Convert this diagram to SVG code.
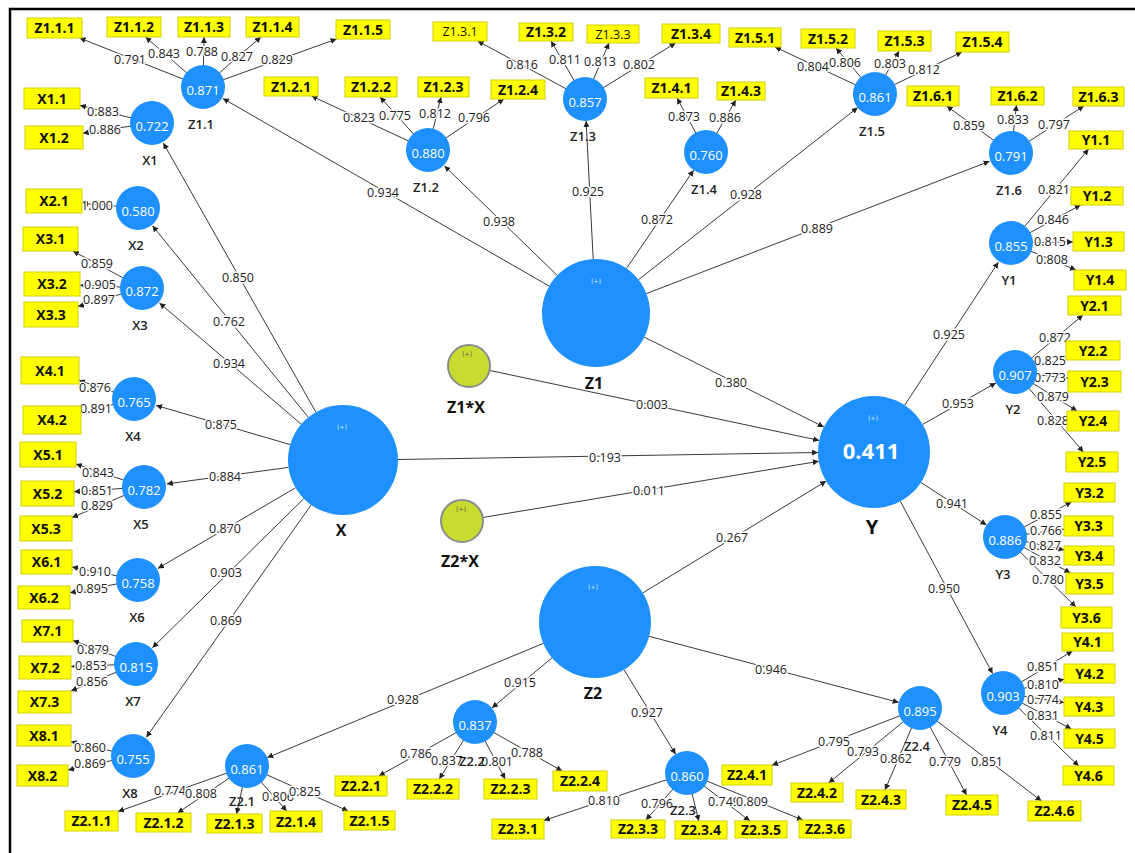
<svg xmlns="http://www.w3.org/2000/svg" width="1135" height="853" viewBox="0 0 1135 853">
<defs>
<marker id="ah" viewBox="0 0 6 6" refX="6" refY="3" markerWidth="6" markerHeight="6" markerUnits="userSpaceOnUse" orient="auto"><path d="M0,0 L6,3 L0,6 z" fill="#222"/></marker>
<style>
.c{stroke:#3a3a3a;stroke-width:1;fill:none;marker-end:url(#ah)}
.l{font-family:"Open Sans","DejaVu Sans",sans-serif;font-size:12.5px;fill:#222;text-anchor:middle;stroke:#fff;stroke-width:3;paint-order:stroke;stroke-linejoin:round}
.lv{fill:#1E90FF}
.ix{fill:#C8DC2F;stroke:#8C8C8C;stroke-width:2}
.v{font-family:"Open Sans","DejaVu Sans",sans-serif;font-size:13px;fill:#fff;text-anchor:middle}
.n{font-family:"Open Sans","DejaVu Sans",sans-serif;font-size:13px;font-weight:600;fill:#222;text-anchor:middle}
.N{font-family:"Open Sans","DejaVu Sans",sans-serif;font-size:16px;font-weight:700;fill:#111;text-anchor:middle}
.p{font-family:"DejaVu Sans",sans-serif;font-size:6px;fill:#d8ecff;text-anchor:middle}
.pi{font-family:"DejaVu Sans",sans-serif;font-size:6px;fill:#555;text-anchor:middle}
.b rect{fill:#FFFF00;stroke:#D2D200;stroke-width:1}
.b text{font-family:"Open Sans","DejaVu Sans",sans-serif;font-size:14px;font-weight:700;fill:#111;text-anchor:middle}
.b text.t{font-weight:400;font-size:12.5px}
</style>
</defs>
<rect width="1135" height="853" fill="#fff"/>
<path d="M10,853 V9 H1135" fill="none" stroke="#000" stroke-width="2.5"/>

<g id="connectors">
<line class="c" x1="549.2" y1="286.1" x2="222.9" y2="98.5"/>
<line class="c" x1="557.2" y1="275.4" x2="444.5" y2="166"/>
<line class="c" x1="593.2" y1="259.1" x2="586.1" y2="121"/>
<line class="c" x1="626.5" y1="268.4" x2="693.6" y2="170.2"/>
<line class="c" x1="638.5" y1="279.7" x2="857.7" y2="107.6"/>
<line class="c" x1="646.4" y1="293.6" x2="989.5" y2="161.3"/>
<line class="c" x1="644.3" y1="337.1" x2="823.9" y2="427"/>
<line class="c" x1="489.5" y1="370.4" x2="819.2" y2="440.4"/>
<line class="c" x1="398" y1="459.5" x2="818" y2="452.5"/>
<line class="c" x1="482.7" y1="517.5" x2="818.8" y2="461.3"/>
<line class="c" x1="642.8" y1="592.9" x2="826.2" y2="481.1"/>
<line class="c" x1="543.3" y1="643.4" x2="267.3" y2="757.6"/>
<line class="c" x1="552" y1="657.8" x2="491.9" y2="707.9"/>
<line class="c" x1="624.1" y1="669.8" x2="675.6" y2="754.2"/>
<line class="c" x1="649.1" y1="636.3" x2="898.7" y2="702.4"/>
<line class="c" x1="315.9" y1="412.2" x2="163.3" y2="143"/>
<line class="c" x1="308.3" y1="417.3" x2="152.5" y2="225.8"/>
<line class="c" x1="301.2" y1="424.2" x2="159.5" y2="303"/>
<line class="c" x1="290.2" y1="444.6" x2="156.1" y2="405.4"/>
<line class="c" x1="288.5" y1="467.4" x2="166.8" y2="483.9"/>
<line class="c" x1="295.5" y1="487.8" x2="157.9" y2="568.4"/>
<line class="c" x1="303.8" y1="498.6" x2="152.4" y2="647.8"/>
<line class="c" x1="311.2" y1="504.9" x2="146.3" y2="737.2"/>
<line class="c" x1="904.7" y1="405.2" x2="998.4" y2="262.2"/>
<line class="c" x1="922.7" y1="424.4" x2="995.9" y2="382.9"/>
<line class="c" x1="921" y1="482.5" x2="986.5" y2="525"/>
<line class="c" x1="900.4" y1="501.4" x2="992.6" y2="673.6"/>
<line class="c" x1="203" y1="87" x2="79.6" y2="38"/>
<line class="c" x1="203" y1="87" x2="145.5" y2="37"/>
<line class="c" x1="203" y1="87" x2="204" y2="37"/>
<line class="c" x1="203" y1="87" x2="260.9" y2="37"/>
<line class="c" x1="203" y1="87" x2="336.6" y2="39"/>
<line class="c" x1="428" y1="150" x2="311.5" y2="96"/>
<line class="c" x1="428" y1="150" x2="380" y2="97"/>
<line class="c" x1="428" y1="150" x2="441" y2="97"/>
<line class="c" x1="428" y1="150" x2="503.9" y2="99"/>
<line class="c" x1="585" y1="99" x2="477.6" y2="41"/>
<line class="c" x1="585" y1="99" x2="551" y2="41"/>
<line class="c" x1="585" y1="99" x2="609" y2="43"/>
<line class="c" x1="585" y1="99" x2="675.6" y2="43"/>
<line class="c" x1="706" y1="152" x2="677" y2="98"/>
<line class="c" x1="706" y1="152" x2="735.8" y2="100"/>
<line class="c" x1="875" y1="94" x2="775" y2="47"/>
<line class="c" x1="875" y1="94" x2="836" y2="48"/>
<line class="c" x1="875" y1="94" x2="899" y2="51"/>
<line class="c" x1="875" y1="94" x2="962" y2="52"/>
<line class="c" x1="1011" y1="153" x2="946.7" y2="106"/>
<line class="c" x1="1011" y1="153" x2="1016.5" y2="105"/>
<line class="c" x1="1011" y1="153" x2="1083.8" y2="106"/>
<line class="c" x1="1011" y1="243" x2="1088.6" y2="149"/>
<line class="c" x1="1011" y1="243" x2="1080.6" y2="205"/>
<line class="c" x1="1011" y1="243" x2="1073" y2="241.9"/>
<line class="c" x1="1011" y1="243" x2="1076" y2="270"/>
<line class="c" x1="1015" y1="372" x2="1083" y2="315"/>
<line class="c" x1="1015" y1="372" x2="1066" y2="357.9"/>
<line class="c" x1="1015" y1="372" x2="1068" y2="378.3"/>
<line class="c" x1="1015" y1="372" x2="1077" y2="411"/>
<line class="c" x1="1015" y1="372" x2="1083.4" y2="452"/>
<line class="c" x1="1005" y1="537" x2="1071.5" y2="502"/>
<line class="c" x1="1005" y1="537" x2="1064" y2="529.2"/>
<line class="c" x1="1005" y1="537" x2="1064" y2="550"/>
<line class="c" x1="1005" y1="537" x2="1070.4" y2="573"/>
<line class="c" x1="1005" y1="537" x2="1075.9" y2="607"/>
<line class="c" x1="1003" y1="693" x2="1072.6" y2="651"/>
<line class="c" x1="1003" y1="693" x2="1064" y2="679.3"/>
<line class="c" x1="1003" y1="693" x2="1064" y2="702.6"/>
<line class="c" x1="1003" y1="693" x2="1071.4" y2="729"/>
<line class="c" x1="1003" y1="693" x2="1078.7" y2="766"/>
<line class="c" x1="920" y1="708" x2="772" y2="765.3"/>
<line class="c" x1="920" y1="708" x2="828.6" y2="783"/>
<line class="c" x1="920" y1="708" x2="885" y2="790"/>
<line class="c" x1="920" y1="708" x2="966.6" y2="795"/>
<line class="c" x1="920" y1="708" x2="1041.5" y2="801"/>
<line class="c" x1="687" y1="773" x2="544" y2="820.4"/>
<line class="c" x1="687" y1="773" x2="645.9" y2="820"/>
<line class="c" x1="687" y1="773" x2="698.8" y2="821"/>
<line class="c" x1="687" y1="773" x2="749.9" y2="821"/>
<line class="c" x1="687" y1="773" x2="802.8" y2="820"/>
<line class="c" x1="475" y1="722" x2="378.8" y2="776"/>
<line class="c" x1="475" y1="722" x2="439.3" y2="779"/>
<line class="c" x1="475" y1="722" x2="505.2" y2="779"/>
<line class="c" x1="475" y1="722" x2="562.2" y2="771"/>
<line class="c" x1="247" y1="766" x2="118" y2="811.6"/>
<line class="c" x1="247" y1="766" x2="177.5" y2="813"/>
<line class="c" x1="247" y1="766" x2="236.6" y2="814"/>
<line class="c" x1="247" y1="766" x2="286.7" y2="811"/>
<line class="c" x1="247" y1="766" x2="348.2" y2="811"/>
<line class="c" x1="152" y1="123" x2="80" y2="105.4"/>
<line class="c" x1="152" y1="123" x2="83" y2="133.2"/>
<line class="c" x1="138" y1="208" x2="82" y2="203.3"/>
<line class="c" x1="142" y1="288" x2="72.9" y2="251"/>
<line class="c" x1="142" y1="288" x2="80" y2="285.2"/>
<line class="c" x1="142" y1="288" x2="78" y2="306.6"/>
<line class="c" x1="134" y1="399" x2="79" y2="380.3"/>
<line class="c" x1="134" y1="399" x2="81" y2="412.6"/>
<line class="c" x1="144" y1="487" x2="76" y2="464"/>
<line class="c" x1="144" y1="487" x2="74" y2="491.7"/>
<line class="c" x1="144" y1="487" x2="72" y2="517.5"/>
<line class="c" x1="138" y1="580" x2="72" y2="567"/>
<line class="c" x1="138" y1="580" x2="70" y2="592.7"/>
<line class="c" x1="136" y1="664" x2="73" y2="640.5"/>
<line class="c" x1="136" y1="664" x2="71" y2="666.5"/>
<line class="c" x1="136" y1="664" x2="71" y2="691"/>
<line class="c" x1="133" y1="756" x2="71" y2="741.7"/>
<line class="c" x1="133" y1="756" x2="68" y2="770"/>
<g>
<text class="l" x="383" y="196.5">0.934</text>
<text class="l" x="499" y="225.5">0.938</text>
<text class="l" x="588" y="195.5">0.925</text>
<text class="l" x="657" y="223.5">0.872</text>
<text class="l" x="746" y="198.5">0.928</text>
<text class="l" x="817" y="232.5">0.889</text>
<text class="l" x="731" y="386.5">0.380</text>
<text class="l" x="652" y="408.5">0.003</text>
<text class="l" x="605" y="461.5">0.193</text>
<text class="l" x="649" y="494.5">0.011</text>
<text class="l" x="732" y="541.5">0.267</text>
<text class="l" x="403" y="703.5">0.928</text>
<text class="l" x="520" y="686.5">0.915</text>
<text class="l" x="647" y="716.5">0.927</text>
<text class="l" x="771" y="673.5">0.946</text>
<text class="l" x="238" y="281.5">0.850</text>
<text class="l" x="229" y="325.5">0.762</text>
<text class="l" x="229" y="367.5">0.934</text>
<text class="l" x="221" y="428.5">0.875</text>
<text class="l" x="225" y="480.5">0.884</text>
<text class="l" x="225" y="532.5">0.870</text>
<text class="l" x="226" y="576.5">0.903</text>
<text class="l" x="226" y="624.5">0.869</text>
<text class="l" x="949" y="338.5">0.925</text>
<text class="l" x="958" y="407.5">0.953</text>
<text class="l" x="952" y="507.5">0.941</text>
<text class="l" x="944" y="592.5">0.950</text>

<text class="l" x="130" y="63.5">0.791</text>
<text class="l" x="164" y="57.5">0.843</text>
<text class="l" x="202" y="55.5">0.788</text>
<text class="l" x="237" y="60.5">0.827</text>
<text class="l" x="277" y="63.5">0.829</text>
<text class="l" x="359" y="121.5">0.823</text>
<text class="l" x="395" y="119.5">0.775</text>
<text class="l" x="435" y="117.5">0.812</text>
<text class="l" x="474" y="121.5">0.796</text>
<text class="l" x="522" y="68.5">0.816</text>
<text class="l" x="565" y="63.5">0.811</text>
<text class="l" x="600" y="65.5">0.813</text>
<text class="l" x="639" y="68.5">0.802</text>
<text class="l" x="684" y="120.5">0.873</text>
<text class="l" x="725" y="121.5">0.886</text>
<text class="l" x="813" y="70.5">0.804</text>
<text class="l" x="845" y="66.5">0.806</text>
<text class="l" x="890" y="67.5">0.803</text>
<text class="l" x="924" y="73.5">0.812</text>
<text class="l" x="969" y="129.5">0.859</text>
<text class="l" x="1013" y="123.5">0.833</text>
<text class="l" x="1054" y="128.5">0.797</text>
<text class="l" x="1054" y="193.5">0.821</text>
<text class="l" x="1053" y="223.5">0.846</text>
<text class="l" x="1050" y="245.5">0.815</text>
<text class="l" x="1052" y="263.5">0.808</text>
<text class="l" x="1055" y="341.5">0.872</text>
<text class="l" x="1050" y="364.5">0.825</text>
<text class="l" x="1050" y="381.5">0.773</text>
<text class="l" x="1053" y="400.5">0.879</text>
<text class="l" x="1053" y="424.5">0.828</text>
<text class="l" x="1046" y="518.5">0.855</text>
<text class="l" x="1046" y="534.5">0.766</text>
<text class="l" x="1045" y="549.5">0.827</text>
<text class="l" x="1045" y="564.5">0.832</text>
<text class="l" x="1048" y="583.5">0.780</text>
<text class="l" x="1043" y="670.5">0.851</text>
<text class="l" x="1043" y="688.5">0.810</text>
<text class="l" x="1043" y="703.5">0.774</text>
<text class="l" x="1043" y="719.5">0.831</text>
<text class="l" x="1046" y="739.5">0.811</text>
<text class="l" x="834" y="745.5">0.795</text>
<text class="l" x="863" y="755.5">0.793</text>
<text class="l" x="896" y="762.5">0.862</text>
<text class="l" x="945" y="765.5">0.779</text>
<text class="l" x="987" y="765.5">0.851</text>
<text class="l" x="604" y="804.5">0.810</text>
<text class="l" x="657" y="807.5">0.796</text>
<text class="l" x="724" y="805.5">0.749</text>
<text class="l" x="752" y="805.5">0.809</text>
<text class="l" x="416" y="757.5">0.786</text>
<text class="l" x="447" y="764.5">0.837</text>
<text class="l" x="497" y="765.5">0.801</text>
<text class="l" x="527" y="756.5">0.788</text>
<text class="l" x="170" y="794.5">0.774</text>
<text class="l" x="201" y="797.5">0.808</text>
<text class="l" x="278" y="800.5">0.806</text>
<text class="l" x="305" y="795.5">0.825</text>
<text class="l" x="103" y="115.5">0.883</text>
<text class="l" x="105" y="133.5">0.886</text>
<text class="l" x="97" y="209.5">1.000</text>
<text class="l" x="97" y="267.5">0.859</text>
<text class="l" x="100" y="288.5">0.905</text>
<text class="l" x="99" y="303.5">0.897</text>
<text class="l" x="95" y="391.5">0.876</text>
<text class="l" x="96" y="412.5">0.891</text>
<text class="l" x="98" y="476.5">0.843</text>
<text class="l" x="97" y="494.5">0.851</text>
<text class="l" x="97" y="509.5">0.829</text>
<text class="l" x="95" y="575.5">0.910</text>
<text class="l" x="92" y="592.5">0.895</text>
<text class="l" x="93" y="654">0.879</text>
<text class="l" x="91" y="670">0.853</text>
<text class="l" x="92" y="686">0.856</text>
<text class="l" x="90" y="751.5">0.860</text>
<text class="l" x="90" y="768">0.869</text>
</g>
</g>

<g id="node-Z1"><circle class="lv" cx="596" cy="313" r="54"/><text class="p" x="596" y="283">[+]</text><text class="N" x="594" y="389">Z1</text></g>
<g id="node-X"><circle class="lv" cx="343" cy="460" r="55"/><text class="p" x="342" y="429">[+]</text><text class="N" x="341" y="536">X</text></g>
<g id="node-Y"><circle class="lv" cx="874" cy="452" r="56"/><text class="p" x="873" y="420">[+]</text><text x="871" y="459" font-family="Open Sans, DejaVu Sans, sans-serif" font-size="22" font-weight="700" fill="#fff" text-anchor="middle">0.411</text><text x="872" y="534" font-family="Open Sans, DejaVu Sans, sans-serif" font-size="20" font-weight="700" fill="#111" text-anchor="middle">Y</text></g>
<g id="node-Z2"><circle class="lv" cx="595" cy="622" r="56"/><text class="p" x="593" y="589">[+]</text><text class="N" x="593" y="699">Z2</text></g>
<g id="node-Z1X"><circle class="ix" cx="469" cy="366" r="21"/><text class="pi" x="467" y="356">[+]</text><text class="N" x="466" y="413">Z1*X</text></g>
<g id="node-Z2X"><circle class="ix" cx="462" cy="521" r="21"/><text class="pi" x="461" y="511">[+]</text><text class="N" x="460" y="567">Z2*X</text></g>

<g id="node-Z1_1"><circle class="lv" cx="203" cy="87" r="22"/><text class="v" x="203" y="95">0.871</text><text class="n" x="201" y="129">Z1.1</text></g>
<g id="node-Z1_2"><circle class="lv" cx="428" cy="150" r="22"/><text class="v" x="428" y="158">0.880</text><text class="n" x="426" y="192">Z1.2</text></g>
<g id="node-Z1_3"><circle class="lv" cx="585" cy="99" r="22"/><text class="v" x="585" y="107">0.857</text><text class="n" x="583" y="141">Z1.3</text></g>
<g id="node-Z1_4"><circle class="lv" cx="706" cy="152" r="22"/><text class="v" x="706" y="160">0.760</text><text class="n" x="704" y="194">Z1.4</text></g>
<g id="node-Z1_5"><circle class="lv" cx="875" cy="94" r="22"/><text class="v" x="875" y="102">0.861</text><text class="n" x="872" y="136">Z1.5</text></g>
<g id="node-Z1_6"><circle class="lv" cx="1011" cy="153" r="22"/><text class="v" x="1011" y="161">0.791</text><text class="n" x="1009" y="195">Z1.6</text></g>
<g id="node-Y1"><circle class="lv" cx="1011" cy="243" r="22"/><text class="v" x="1011" y="251">0.855</text><text class="n" x="1009" y="285">Y1</text></g>
<g id="node-Y2"><circle class="lv" cx="1015" cy="372" r="22"/><text class="v" x="1015" y="380">0.907</text><text class="n" x="1013" y="414">Y2</text></g>
<g id="node-Y3"><circle class="lv" cx="1005" cy="537" r="22"/><text class="v" x="1005" y="545">0.886</text><text class="n" x="1003" y="579">Y3</text></g>
<g id="node-Y4"><circle class="lv" cx="1003" cy="693" r="22"/><text class="v" x="1003" y="701">0.903</text><text class="n" x="1000" y="735">Y4</text></g>
<g id="node-Z2_4"><circle class="lv" cx="920" cy="708" r="22"/><text class="v" x="920" y="716">0.895</text><text class="n" x="917" y="751">Z2.4</text></g>
<g id="node-Z2_3"><circle class="lv" cx="687" cy="773" r="22"/><text class="v" x="687" y="781">0.860</text><text class="n" x="683" y="815">Z2.3</text></g>
<g id="node-Z2_2"><circle class="lv" cx="475" cy="722" r="22"/><text class="v" x="475" y="730">0.837</text><text class="n" x="472" y="766">Z2.2</text></g>
<g id="node-Z2_1"><circle class="lv" cx="247" cy="766" r="22"/><text class="v" x="247" y="774">0.861</text><text class="n" x="242" y="806">Z2.1</text></g>
<g id="node-X1"><circle class="lv" cx="152" cy="123" r="22"/><text class="v" x="152" y="131">0.722</text><text class="n" x="150" y="165">X1</text></g>
<g id="node-X2"><circle class="lv" cx="138" cy="208" r="22"/><text class="v" x="138" y="216">0.580</text><text class="n" x="136" y="250">X2</text></g>
<g id="node-X3"><circle class="lv" cx="142" cy="288" r="22"/><text class="v" x="142" y="296">0.872</text><text class="n" x="140" y="330">X3</text></g>
<g id="node-X4"><circle class="lv" cx="134" cy="399" r="22"/><text class="v" x="134" y="407">0.765</text><text class="n" x="133" y="441">X4</text></g>
<g id="node-X5"><circle class="lv" cx="144" cy="487" r="22"/><text class="v" x="144" y="495">0.782</text><text class="n" x="141" y="529">X5</text></g>
<g id="node-X6"><circle class="lv" cx="138" cy="580" r="22"/><text class="v" x="138" y="588">0.758</text><text class="n" x="137" y="622">X6</text></g>
<g id="node-X7"><circle class="lv" cx="136" cy="664" r="22"/><text class="v" x="136" y="672">0.815</text><text class="n" x="133" y="706">X7</text></g>
<g id="node-X8"><circle class="lv" cx="133" cy="756" r="22"/><text class="v" x="133" y="764">0.755</text><text class="n" x="130" y="798">X8</text></g>

<g class="b">
<g id="ind-Z1_1_1"><rect x="27" y="18" width="55" height="20"/><text x="54.5" y="33">Z1.1.1</text></g>
<g id="ind-Z1_1_2"><rect x="107" y="17" width="54" height="20"/><text x="134" y="32">Z1.1.2</text></g>
<g id="ind-Z1_1_3"><rect x="178" y="17" width="52" height="20"/><text x="204" y="32">Z1.1.3</text></g>
<g id="ind-Z1_1_4"><rect x="246" y="17" width="53" height="20"/><text x="272.5" y="32">Z1.1.4</text></g>
<g id="ind-Z1_1_5"><rect x="336" y="20" width="54" height="19"/><text x="363" y="34.5">Z1.1.5</text></g>
<g id="ind-Z1_2_1"><rect x="264" y="77" width="54" height="19"/><text x="291" y="91.5">Z1.2.1</text></g>
<g id="ind-Z1_2_2"><rect x="345" y="77" width="52" height="20"/><text x="371" y="92">Z1.2.2</text></g>
<g id="ind-Z1_2_3"><rect x="418" y="77" width="51" height="20"/><text x="443.5" y="92">Z1.2.3</text></g>
<g id="ind-Z1_2_4"><rect x="491" y="80" width="54" height="19"/><text x="518" y="94.5">Z1.2.4</text></g>
<g id="ind-Z1_3_1"><rect x="433" y="22" width="54" height="19"/><text class="t" x="460" y="36">Z1.3.1</text></g>
<g id="ind-Z1_3_2"><rect x="519" y="23" width="54" height="18"/><text x="546" y="37">Z1.3.2</text></g>
<g id="ind-Z1_3_3"><rect x="587" y="25" width="52" height="18"/><text class="t" x="613" y="38.5">Z1.3.3</text></g>
<g id="ind-Z1_3_4"><rect x="662" y="24" width="58" height="19"/><text x="691" y="38.5">Z1.3.4</text></g>
<g id="ind-Z1_4_1"><rect x="645" y="78" width="53" height="20"/><text x="671.5" y="93">Z1.4.1</text></g>
<g id="ind-Z1_4_3"><rect x="717" y="82" width="48" height="18"/><text x="741" y="96">Z1.4.3</text></g>
<g id="ind-Z1_5_1"><rect x="729" y="28" width="52" height="19"/><text x="755" y="42.5">Z1.5.1</text></g>
<g id="ind-Z1_5_2"><rect x="801" y="29" width="54" height="19"/><text x="828" y="43.5">Z1.5.2</text></g>
<g id="ind-Z1_5_3"><rect x="878" y="31" width="53" height="20"/><text x="904.5" y="46">Z1.5.3</text></g>
<g id="ind-Z1_5_4"><rect x="956" y="32" width="53" height="20"/><text x="982.5" y="47">Z1.5.4</text></g>
<g id="ind-Z1_6_1"><rect x="907" y="86" width="52" height="20"/><text x="933" y="101">Z1.6.1</text></g>
<g id="ind-Z1_6_2"><rect x="991" y="87" width="53" height="18"/><text x="1017.5" y="101">Z1.6.2</text></g>
<g id="ind-Z1_6_3"><rect x="1073" y="87" width="51" height="19"/><text x="1098.5" y="101.5">Z1.6.3</text></g>
<g id="ind-Y1_1"><rect x="1069" y="131" width="54" height="18"/><text x="1096" y="145">Y1.1</text></g>
<g id="ind-Y1_2"><rect x="1071" y="187" width="52" height="18"/><text x="1097" y="201">Y1.2</text></g>
<g id="ind-Y1_3"><rect x="1073" y="232" width="51" height="19"/><text x="1098.5" y="246.5">Y1.3</text></g>
<g id="ind-Y1_4"><rect x="1074" y="270" width="52" height="20"/><text x="1100" y="285">Y1.4</text></g>
<g id="ind-Y2_1"><rect x="1068" y="296" width="53" height="19"/><text x="1094.5" y="310.5">Y2.1</text></g>
<g id="ind-Y2_2"><rect x="1066" y="341" width="54" height="19"/><text x="1093" y="355.5">Y2.2</text></g>
<g id="ind-Y2_3"><rect x="1068" y="371" width="53" height="21"/><text x="1094.5" y="386.5">Y2.3</text></g>
<g id="ind-Y2_4"><rect x="1067" y="411" width="52" height="20"/><text x="1093" y="426">Y2.4</text></g>
<g id="ind-Y2_5"><rect x="1066" y="452" width="52" height="20"/><text x="1092" y="467">Y2.5</text></g>
<g id="ind-Y3_2"><rect x="1064" y="483" width="51" height="19"/><text x="1089.5" y="497.5">Y3.2</text></g>
<g id="ind-Y3_3"><rect x="1064" y="516" width="49" height="20"/><text x="1088.5" y="531">Y3.3</text></g>
<g id="ind-Y3_4"><rect x="1064" y="546" width="50" height="19"/><text x="1089" y="560.5">Y3.4</text></g>
<g id="ind-Y3_5"><rect x="1066" y="573" width="47" height="21"/><text x="1089.5" y="588.5">Y3.5</text></g>
<g id="ind-Y3_6"><rect x="1061" y="607" width="51" height="21"/><text x="1086.5" y="622.5">Y3.6</text></g>
<g id="ind-Y4_1"><rect x="1062" y="633" width="51" height="18"/><text x="1087.5" y="647">Y4.1</text></g>
<g id="ind-Y4_2"><rect x="1064" y="664" width="51" height="19"/><text x="1089.5" y="678.5">Y4.2</text></g>
<g id="ind-Y4_3"><rect x="1064" y="697" width="50" height="19"/><text x="1089" y="711.5">Y4.3</text></g>
<g id="ind-Y4_5"><rect x="1064" y="729" width="51" height="19"/><text x="1089.5" y="743.5">Y4.5</text></g>
<g id="ind-Y4_6"><rect x="1063" y="766" width="51" height="19"/><text x="1088.5" y="780.5">Y4.6</text></g>
<g id="ind-Z2_1_1"><rect x="65" y="811" width="53" height="20"/><text x="91.5" y="826">Z2.1.1</text></g>
<g id="ind-Z2_1_2"><rect x="136" y="813" width="55" height="19"/><text x="163.5" y="827.5">Z2.1.2</text></g>
<g id="ind-Z2_1_3"><rect x="207" y="814" width="55" height="19"/><text x="234.5" y="828.5">Z2.1.3</text></g>
<g id="ind-Z2_1_4"><rect x="270" y="811" width="52" height="21"/><text x="296" y="826.5">Z2.1.4</text></g>
<g id="ind-Z2_1_5"><rect x="344" y="811" width="51" height="19"/><text x="369.5" y="825.5">Z2.1.5</text></g>
<g id="ind-Z2_2_1"><rect x="335" y="776" width="52" height="20"/><text x="361" y="791">Z2.2.1</text></g>
<g id="ind-Z2_2_2"><rect x="407" y="779" width="52" height="20"/><text x="433" y="794">Z2.2.2</text></g>
<g id="ind-Z2_2_3"><rect x="484" y="779" width="53" height="20"/><text x="510.5" y="794">Z2.2.3</text></g>
<g id="ind-Z2_2_4"><rect x="553" y="771" width="54" height="20"/><text x="580" y="786">Z2.2.4</text></g>
<g id="ind-Z2_3_1"><rect x="492" y="819" width="52" height="20"/><text x="518" y="834">Z2.3.1</text></g>
<g id="ind-Z2_3_3"><rect x="611" y="820" width="54" height="18"/><text x="638" y="834">Z2.3.3</text></g>
<g id="ind-Z2_3_4"><rect x="675" y="821" width="52" height="18"/><text x="701" y="835">Z2.3.4</text></g>
<g id="ind-Z2_3_5"><rect x="735" y="821" width="52" height="17"/><text x="761" y="834.5">Z2.3.5</text></g>
<g id="ind-Z2_3_6"><rect x="799" y="820" width="52" height="18"/><text x="825" y="834">Z2.3.6</text></g>
<g id="ind-Z2_4_1"><rect x="722" y="765" width="50" height="20"/><text x="747" y="780">Z2.4.1</text></g>
<g id="ind-Z2_4_2"><rect x="791" y="783" width="52" height="19"/><text x="817" y="797.5">Z2.4.2</text></g>
<g id="ind-Z2_4_3"><rect x="856" y="790" width="50" height="19"/><text x="881" y="804.5">Z2.4.3</text></g>
<g id="ind-Z2_4_5"><rect x="946" y="795" width="52" height="20"/><text x="972" y="810">Z2.4.5</text></g>
<g id="ind-Z2_4_6"><rect x="1028" y="801" width="53" height="20"/><text x="1054.5" y="816">Z2.4.6</text></g>
<g id="ind-X1_1"><rect x="24" y="88" width="56" height="21"/><text x="52" y="103.5">X1.1</text></g>
<g id="ind-X1_2"><rect x="25" y="126" width="58" height="23"/><text x="54" y="142.5">X1.2</text></g>
<g id="ind-X2_1"><rect x="26" y="189" width="56" height="24"/><text x="54" y="206">X2.1</text></g>
<g id="ind-X3_1"><rect x="23" y="227" width="55" height="24"/><text x="50.5" y="244">X3.1</text></g>
<g id="ind-X3_2"><rect x="24" y="272" width="56" height="24"/><text x="52" y="289">X3.2</text></g>
<g id="ind-X3_3"><rect x="24" y="302" width="54" height="25"/><text x="51" y="319.5">X3.3</text></g>
<g id="ind-X4_1"><rect x="21" y="357" width="58" height="27"/><text x="50" y="375.5">X4.1</text></g>
<g id="ind-X4_2"><rect x="23" y="406" width="58" height="28"/><text x="52" y="425">X4.2</text></g>
<g id="ind-X5_1"><rect x="20" y="442" width="56" height="25"/><text x="48" y="459.5">X5.1</text></g>
<g id="ind-X5_2"><rect x="21" y="481" width="53" height="25"/><text x="47.5" y="498.5">X5.2</text></g>
<g id="ind-X5_3"><rect x="20" y="516" width="52" height="25"/><text x="46" y="533.5">X5.3</text></g>
<g id="ind-X6_1"><rect x="21" y="550" width="51" height="24"/><text x="46.5" y="567">X6.1</text></g>
<g id="ind-X6_2"><rect x="18" y="586" width="52" height="23"/><text x="44" y="602.5">X6.2</text></g>
<g id="ind-X7_1"><rect x="22" y="620" width="51" height="22"/><text x="47.5" y="636">X7.1</text></g>
<g id="ind-X7_2"><rect x="19" y="656" width="52" height="23"/><text x="45" y="672.5">X7.2</text></g>
<g id="ind-X7_3"><rect x="18" y="691" width="53" height="22"/><text x="44.5" y="707">X7.3</text></g>
<g id="ind-X8_1"><rect x="17" y="725" width="54" height="21"/><text x="44" y="740.5">X8.1</text></g>
<g id="ind-X8_2"><rect x="17" y="765" width="51" height="21"/><text x="42.5" y="780.5">X8.2</text></g>
</g>
</svg>
